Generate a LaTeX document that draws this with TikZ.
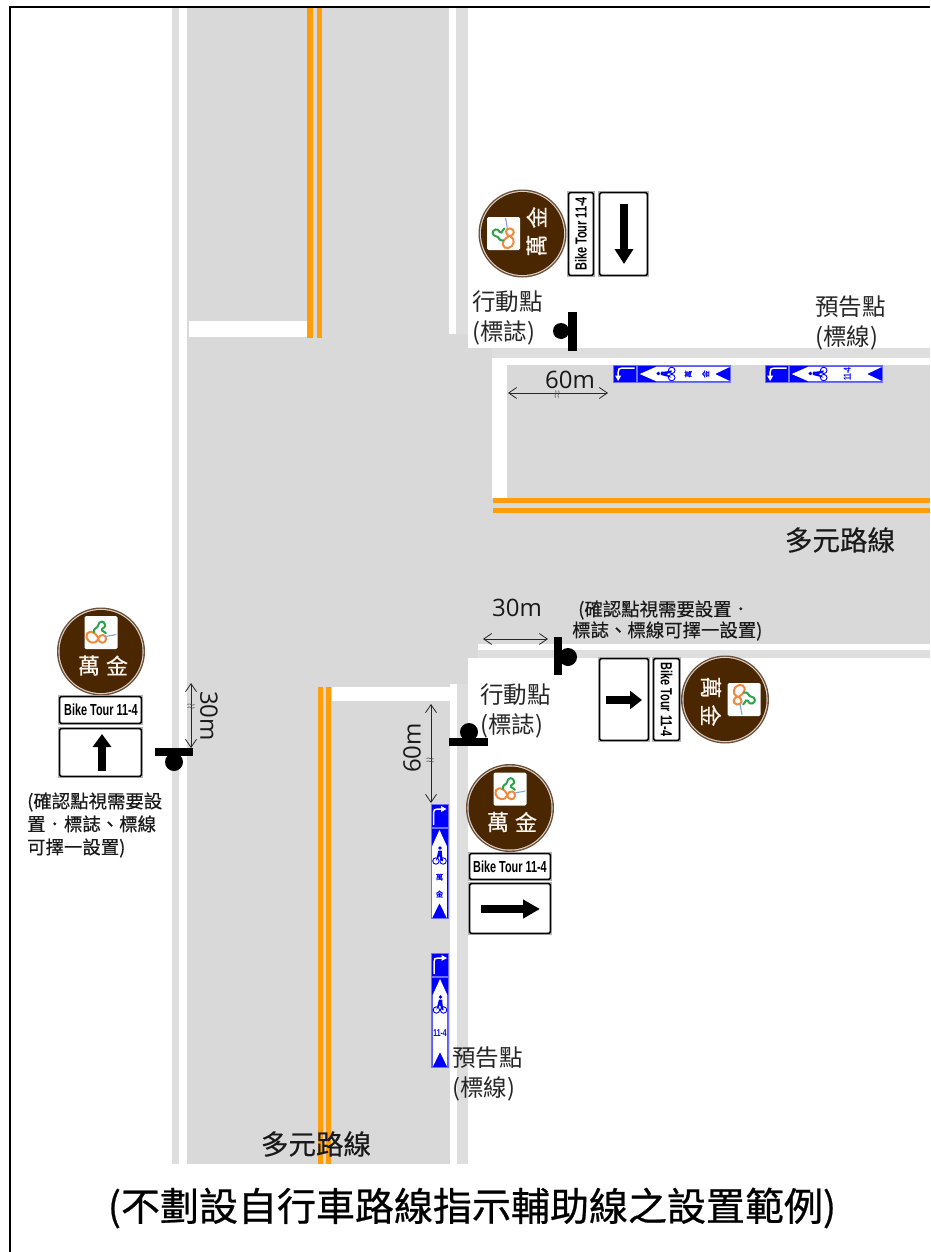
\documentclass[tikz,border=0pt]{standalone}
\usepackage{fontspec}
\usetikzlibrary{arrows.meta}
\setmainfont{Noto Sans CJK TC}
\newfontfamily\medcjk[FakeBold=0.35]{Noto Sans CJK TC}
\newfontfamily\titlecjk[FakeBold=0.6]{Noto Sans CJK TC}
\newfontfamily\opensans{Open Sans}
\newfontfamily\platefont[FakeStretch=0.68]{Liberation Sans Bold}
\definecolor{roadgray}{HTML}{D9D9D9}
\definecolor{stripgray}{HTML}{DEDEDE}
\definecolor{linkorange}{HTML}{FF9D0A}
\definecolor{signbrown}{HTML}{4A2700}
\definecolor{signring}{HTML}{6E4E38}
\definecolor{markblue}{HTML}{0000FF}
\definecolor{markedge}{HTML}{7070FF}
\definecolor{logoorange}{HTML}{F08A3C}
\definecolor{logogreen}{HTML}{2CA24A}
\definecolor{logoblue}{HTML}{7FA6DC}
\tikzset{
  x=1pt,y=-1pt,
  road/.style={fill=roadgray},
  strip/.style={fill=stripgray},
  paint/.style={fill=white},
  orangeline/.style={fill=linkorange},
  lab/.style={font=\fontsize{23.5}{30}\selectfont,text=black!85,inner sep=0pt,align=left},
  roadname/.style={font=\medcjk\fontsize{27.5}{32}\selectfont,text=black!90,inner sep=0pt},
  note/.style={font=\medcjk\fontsize{18.4}{23}\selectfont,text=black!90,inner sep=0pt,align=left},
  dimtext/.style={font=\opensans\fontsize{24}{28}\selectfont,text=black!90,inner sep=0pt},
  dim/.style={{Straight Barb[length=8pt,width=11pt]}-{Straight Barb[length=8pt,width=11pt]},line width=.8pt,draw=black!85},
  bigarrow/.style={line width=8pt,-{Triangle[length=#1,width=18pt]}},
  signtext/.style={font=\medcjk\fontsize{22}{24}\selectfont,text=white!92!brown,inner sep=0pt,transform shape},
  platetext/.style={font=\platefont\fontsize{16}{18}\selectfont,inner sep=0pt,transform shape},
  marktext/.style={font=\medcjk\fontsize{7.5}{8}\selectfont,text=markblue,inner sep=0pt,transform shape},
}
% round brown sign
\newcommand{\roundsign}[4]{%
\begin{scope}[shift={(#2,#3)},rotate=#4]
  \fill[signring] (0,0) circle (44pt);
  \fill[white!75!signring] (0,0) circle (42.6pt);
  \fill[signbrown] (0,0) circle (41.5pt);
  \node[fill=white,rounded corners=1.5pt,minimum size=33pt,inner sep=0pt,transform shape] (#1logo) at (0,-19) {};
  \begin{scope}[line cap=round]
    \draw[logoorange,line width=2pt] (-3,-14) .. controls (-8,-23) and (-16,-20) .. (-14.5,-14) .. controls (-13,-8) and (-5,-7) .. (-3,-12) .. controls (-1,-19) and (6,-17) .. (5,-12) .. controls (4,-7) and (-2,-8) .. (-3,-13);
    \draw[logogreen,line width=2pt] (-7,-19) .. controls (-8,-24) and (-3,-23) .. (-3,-26) .. controls (-2,-31) and (3,-31) .. (4,-27) .. controls (5,-23) and (0,-24) .. (1,-21) .. controls (2,-19) and (5,-20) .. (5,-18);
    \draw[logoblue,line width=1.1pt] (5,-15) .. controls (8,-16) and (12,-16) .. (15,-17);
  \end{scope}
  \node[signtext] (#1wan) at (-12,14) {萬};
  \node[signtext] (#1jin) at (16,14) {金};
\end{scope}}
% white panel with grey edge and black border
\newcommand{\panel}[4]{%
  \fill[black!30] (#1,#2) rectangle (#3,#4);
  \draw[black,line width=1.6pt,fill=white,rounded corners=1.5pt] ({#1+1.6},{#2+1.6}) rectangle ({#3-1.6},{#4-1.6});}
% Bike Tour plate text
\newcommand{\platelabel}[4]{\node[platetext,rotate=#4] (#1) at (#2,#3) {Bike Tour 11-4};}
% black sign post
\newcommand{\signpost}[7]{%
  \fill[black] (#1,#2) circle (#3);
  \fill[black] (#4,#5) rectangle (#6,#7);}
% break mark on a dimension line
\newcommand{\brk}[3]{%
\begin{scope}[shift={(#1,#2)},rotate=#3,draw=black!70,line width=.6pt]
  \draw (-1.5,-3.5) .. controls (0.8,-1.5) and (-3.8,1.5) .. (-1.5,3.5);
  \draw (1.5,-3.5) .. controls (3.8,-1.5) and (-0.8,1.5) .. (1.5,3.5);
\end{scope}}
% road marking: anchored at the top centre, running downward in local coordinates
% #1 = 1 for a right turn arrow, -1 for a left turn arrow
\newcommand{\marking}[6]{%
\begin{scope}[shift={(#2,#3)},rotate=#4,yscale=#5]
  \fill[markblue] (-8.3,0) rectangle (8.3,23);
  \fill[markblue] (-8.3,24) rectangle (8.3,114);
  \draw[markedge,line width=.6pt] (-8.3,0) rectangle (8.3,23);
  \draw[markedge,line width=.6pt] (-8.3,24) rectangle (8.3,114);
  \begin{scope}[xscale=#1]
    \draw[white,line width=1.5pt] (-6,21) -- (-6,9) .. controls (-6,6) and (-5,5) .. (-2,5) -- (3,5);
    \fill[white] (7,5) -- (1.5,2) -- (1.5,8) -- cycle;
  \end{scope}
  \fill[white] (0,26) -- (7.3,42) -- (7.3,114) -- (0,99) -- (-7.3,114) -- (-7.3,42) -- cycle;
  \begin{scope}[draw=markblue,line width=.9pt]
    \draw (-3.6,57) circle (3.2pt);
    \draw (3.6,57) circle (3.2pt);
    \fill[markblue] (0.5,44) circle (1.9pt);
    \fill[markblue] (-1,46.5) -- (2.2,46.5) -- (2.6,52) -- (3.6,57) -- (1.8,57) -- (0,52) -- (-3.6,57) -- (-2.2,51) -- cycle;
  \end{scope}
  #6
\end{scope}}
\newcommand{\wanjin}[1]{\node[marktext] (#1a) at (0,73) {萬}; \node[marktext] (#1b) at (0,90) {金};}
\newcommand{\elevenfour}[1]{\node[marktext,font=\platefont\fontsize{10}{11}\selectfont] (#1a) at (0,80) {11-4};}
\begin{document}
\begin{tikzpicture}
\useasboundingbox (0,0) rectangle (930,1252);
\fill[white] (0,0) rectangle (930,1252);
% frame
\draw[black,line width=1.8pt] (10,1252) -- (10,7) -- (930,7);
% road surfaces
\fill[strip] (172,8) rectangle (179,1164);
\fill[road] (187,8) rectangle (450,1164);
\fill[strip] (456,8) rectangle (468,348);
\fill[road] (448,334) rectangle (468,348);
\fill[road] (448,348) rectangle (930,658);
\fill[strip] (457,684) rectangle (468,1164);
\fill[road] (450,658) rectangle (468,684);
\fill[strip] (478,650) rectangle (930,658);
\fill[strip] (492,348) rectangle (930,358);
% white markings
\fill[paint] (449,8) rectangle (456,334);
\fill[paint] (189,321) rectangle (307,337);
\fill[paint] (492,358) rectangle (930,365);
\fill[paint] (492,358) rectangle (507,498);
\fill[paint] (478,644) rectangle (930,650);
\fill[paint] (332,687) rectangle (450,701);
\fill[paint] (450,684) rectangle (457,1164);
% orange centre lines
\fill[orangeline] (307,8) rectangle (313,338);
\fill[orangeline] (317,8) rectangle (322,338);
\fill[orangeline] (493,498) rectangle (930,503);
\fill[orangeline] (493,508) rectangle (930,513);
\fill[orangeline] (318,687) rectangle (323,1164);
\fill[orangeline] (326,687) rectangle (331,1164);
% road markings
\marking{-1}{613}{374}{90}{1.03}{\wanjin{mAt}}
\marking{-1}{765}{374}{90}{1.03}{\elevenfour{mBt}}
\marking{1}{439.5}{804}{0}{1}{\wanjin{mCt}}
\marking{1}{440}{953}{0}{1}{\elevenfour{mDt}}
% signs: top
\roundsign{sA}{522.5}{233.5}{90}
\panel{567}{191}{595}{277}
\platelabel{pA}{581}{234}{90}
\panel{598}{191}{649}{277}
\coordinate (aAs) at (624,204); \coordinate (aAe) at (624,264);
\draw[bigarrow=15pt] (aAs) -- (aAe);
% signs: left
\roundsign{sB}{101}{651.5}{0}
\panel{58}{695}{143}{725}
\platelabel{pB}{101}{710}{0}
\panel{58}{727}{143}{778}
\coordinate (aBs) at (102,771); \coordinate (aBe) at (102,734);
\draw[bigarrow=13pt] (aBs) -- (aBe);
% signs: lower centre
\roundsign{sC}{510}{808}{0}
\panel{468}{852}{552}{881}
\platelabel{pC}{510}{866.5}{0}
\panel{468}{882}{552}{935}
\coordinate (aCs) at (481,909); \coordinate (aCe) at (540,909);
\draw[bigarrow=17pt] (aCs) -- (aCe);
% signs: right
\roundsign{sD}{725}{699.5}{-90}
\panel{652}{657}{681}{742}
\platelabel{pD}{666.5}{699.5}{-90}
\panel{598}{657}{650}{742}
\coordinate (aDs) at (606,700); \coordinate (aDe) at (642,700);
\draw[bigarrow=12pt] (aDs) -- (aDe);
% sign posts
\signpost{561}{331}{8pt}{568}{312}{577}{351}
\signpost{174}{762}{9pt}{155}{748}{193}{756}
\signpost{469}{732}{9pt}{449}{738}{488}{746}
\signpost{568}{657}{9pt}{554}{637}{562}{675}
% dimension lines
\coordinate (dAa) at (508,393); \coordinate (dAb) at (608,393);
\draw[dim] (dAa) -- (dAb); \brk{557}{394}{0}
\coordinate (dBa) at (483,639); \coordinate (dBb) at (548,639);
\draw[dim] (dBa) -- (dBb);
\coordinate (dCa) at (191,683); \coordinate (dCb) at (191,748);
\draw[dim] (dCa) -- (dCb); \brk{191}{706}{90}
\coordinate (dDa) at (431,704); \coordinate (dDb) at (431,803);
\draw[dim] (dDa) -- (dDb); \brk{430}{760}{90}
\node[dimtext] (t60a) at (570,380) {60m};
\node[dimtext] (t30a) at (517,608) {30m};
\node[dimtext,rotate=90] (t60b) at (412,748) {60m};
\node[dimtext,rotate=-90] (t30b) at (209,716) {30m};
% labels
\node[lab,anchor=west] (act1) at (472,318) {行動點\\(標誌)};
\node[lab,anchor=west] (adv1) at (815,322.5) {預告點\\(標線)};
\node[lab,anchor=west] (act2) at (480,710.5) {行動點\\(標誌)};
\node[lab,anchor=west] (adv2) at (452,1073.5) {預告點\\(標線)};
\node[roadname] (rn1) at (840,540) {多元路線};
\node[roadname] (rn2) at (316,1144) {多元路線};
\node[note,anchor=west] (n1) at (27,825) {(確認點視需要設\\置．標誌、標線\\可擇一設置)};
\node[note,anchor=west] (n2a) at (578,610) {(確認點視需要設置．};
\node[note,anchor=west] (n2b) at (572,631) {標誌、標線可擇一設置)};
\node[font=\titlecjk\fontsize{39}{43}\selectfont,inner sep=0pt,text=black] (title) at (472,1208) {(不劃設自行車路線指示輔助線之設置範例)};
\end{tikzpicture}
\end{document}
